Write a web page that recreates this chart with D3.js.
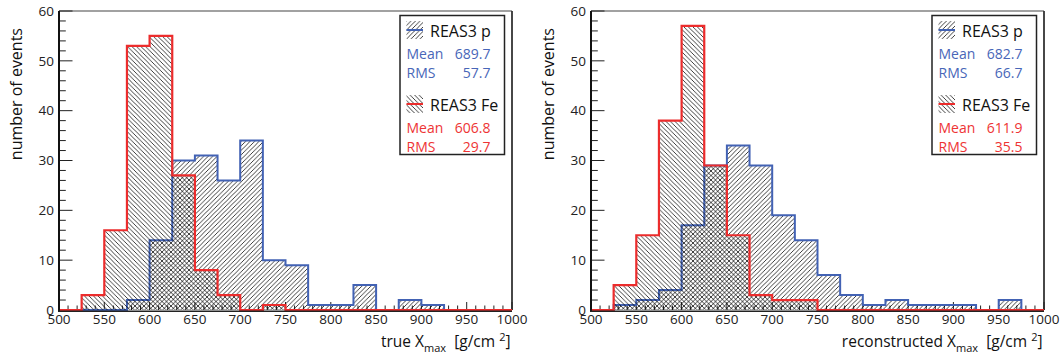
<!DOCTYPE html>
<html><head><meta charset="utf-8">
<script src="https://cdn.jsdelivr.net/npm/d3@7/dist/d3.min.js"></script>
<style>body{margin:0;background:#fff}svg{display:block}text{font-family:"Open Sans",sans-serif}</style>
</head><body>
<svg id="c" width="1063" height="359"></svg>
<script>
// ---- data ----
const binStart = 500, binWidth = 25, nBins = 20;
const trueP   = [0,0,0,2,14,30,31,26,34,10,9,1,1,5,0,2,1,0,0,0];
const trueFe  = [0,3,16,53,55,27,8,3,0,1,0,0,0,0,0,0,0,0,0,0];
const recoP   = [0,1,2,4,17,29,33,29,19,14,7,3,1,2,1,1,1,0,2,0];
const recoFe  = [0,5,15,38,57,29,15,3,2,2,0,0,0,0,0,0,0,0,0,0];
const xTicks = [500,550,600,650,700,750,800,850,900,950,1000];
const yTicks = [0,10,20,30,40,50,60];
const seriesNames = ["REAS3 p","REAS3 Fe"];
const statsTrue = {p:["689.7","57.7"], fe:["606.8","29.7"]};
const statsReco = {p:["682.7","66.7"], fe:["611.9","35.5"]};
const xTitles = ["true X","reconstructed X"];

const BLUE = "#4262b4", RED = "#ec2c2c", BTXT = "#4866b8", RTXT = "#ee3434";
const svg = d3.select("#c");
const defs = svg.append("defs");
function hatch(id, d){
  defs.append("pattern").attr("id",id).attr("patternUnits","userSpaceOnUse")
    .attr("width",4.5).attr("height",4.5)
    .append("path").attr("d",d).attr("stroke","#000").attr("stroke-width",0.75).attr("fill","none");
}
hatch("hp","M-1,1 L1,-1 M0,4.5 L4.5,0 M3.5,5.5 L5.5,3.5");
hatch("hf","M-1,3.5 L1,5.5 M0,0 L4.5,4.5 M3.5,-1 L5.5,1");

const panels = [
  {ox:59, p:trueP, fe:trueFe, st:statsTrue, title:xTitles[0]},
  {ox:591, p:recoP, fe:recoFe, st:statsReco, title:xTitles[1]}
];
const PW = 453, TOP = 11, BOT = 310;

panels.forEach(pn=>{
  const g = svg.append("g");
  const x = d3.scaleLinear().domain([500,1000]).range([pn.ox, pn.ox+PW]);
  const y = d3.scaleLinear().domain([0,60]).range([BOT, TOP]);

  // frame top/right
  g.append("line").attr("x1",x(500)).attr("x2",x(1000)).attr("y1",TOP).attr("y2",TOP).attr("stroke","#444").attr("stroke-width",1.2);
  g.append("line").attr("x1",x(1000)).attr("x2",x(1000)).attr("y1",TOP).attr("y2",BOT).attr("stroke","#333").attr("stroke-width",1.8);

  function histPath(vals){
    const pts = [[binStart,0]];
    vals.forEach((v,i)=>{ pts.push([binStart+i*binWidth,v]); pts.push([binStart+(i+1)*binWidth,v]); });
    pts.push([binStart+nBins*binWidth,0]);
    return d3.line().x(d=>x(d[0])).y(d=>y(d[1]))(pts);
  }
  // ticks
  const minorX = d3.range(500,1001,10), minorY = d3.range(0,61,2);
  g.append("g").selectAll("line").data(minorX).join("line")
    .attr("x1",d=>x(d)).attr("x2",d=>x(d)).attr("y1",BOT)
    .attr("y2",d=> xTicks.includes(d)? BOT-8 : BOT-4.5).attr("stroke","#222").attr("stroke-width",1);
  g.append("g").selectAll("line").data(minorY).join("line")
    .attr("y1",d=>y(d)).attr("y2",d=>y(d)).attr("x1",x(500))
    .attr("x2",d=> yTicks.includes(d)? x(500)+13.5 : x(500)+6.8).attr("stroke","#222").attr("stroke-width",1);

  // histograms
  g.append("path").attr("d",histPath(pn.p)).attr("fill","url(#hp)").attr("stroke",BLUE).attr("stroke-width",2).attr("stroke-linejoin","miter");
  g.append("path").attr("d",histPath(pn.fe)).attr("fill","url(#hf)").attr("stroke",RED).attr("stroke-width",2.2).attr("stroke-linejoin","miter");

  // axes lines
  g.append("line").attr("x1",x(500)).attr("x2",x(500)).attr("y1",TOP).attr("y2",BOT+1).attr("stroke","#111").attr("stroke-width",2);
  g.append("line").attr("x1",x(500)-1).attr("x2",x(1000)).attr("y1",BOT+1.2).attr("y2",BOT+1.2).attr("stroke","#222").attr("stroke-width",1.4);

  // tick labels
  g.append("g").selectAll("text").data(xTicks).join("text")
    .attr("x",d=>x(d)).attr("y",324).attr("text-anchor","middle")
    .attr("font-size",13.5).attr("fill","#222").text(d=>d);
  g.append("g").selectAll("text").data(yTicks).join("text")
    .attr("x",x(500)-5).attr("y",d=>y(d)+4.8).attr("text-anchor","end")
    .attr("font-size",13.5).attr("fill","#222").text(d=>d);

  // axis titles
  g.append("text").attr("transform",`translate(${pn.ox-37.5},28) rotate(-90)`)
    .attr("text-anchor","end").attr("font-size",16).attr("fill","#111").text("number of events");
  const t = g.append("text").attr("x",x(1000)-1.5).attr("y",346.5).attr("text-anchor","end")
    .attr("font-size",15.5).attr("fill","#111");
  t.append("tspan").text(pn.title);
  t.append("tspan").attr("font-size",11).attr("dy",5).text("max");
  t.append("tspan").attr("dy",-5).text("\u00a0 [g/cm\u00a0");
  t.append("tspan").attr("font-size",11).attr("dy",-6).text("2");
  t.append("tspan").attr("dy",6).text("]");

  // legend
  const L = g.append("g");
  const lx = pn.ox+341;
  L.append("rect").attr("x",lx).attr("y",15.5).attr("width",104.5).attr("height",139)
    .attr("fill","#fff").attr("stroke","#222").attr("stroke-width",1.5);
  const ents = [
    {name:seriesNames[0], pat:"hp", col:BLUE, tc:BTXT, vals:pn.st.p, y0:21},
    {name:seriesNames[1], pat:"hf", col:RED, tc:RTXT, vals:pn.st.fe, y0:95}
  ];
  ents.forEach(e=>{
    L.append("rect").attr("x",lx+6.5).attr("y",e.y0).attr("width",16.5).attr("height",18).attr("fill",`url(#${e.pat})`);
    L.append("line").attr("x1",lx+6.5).attr("x2",lx+23).attr("y1",e.y0+9).attr("y2",e.y0+9).attr("stroke",e.col).attr("stroke-width",2);
    L.append("text").attr("x",lx+30).attr("y",e.y0+16.3).attr("font-size",16).attr("fill","#111").text(e.name);
    ["Mean","RMS"].forEach((lab,k)=>{
      const yy = e.y0+38.3+k*19;
      L.append("text").attr("x",lx+6.5).attr("y",yy).attr("font-size",14).attr("fill",e.tc).text(lab);
      L.append("text").attr("x",lx+90.5).attr("y",yy).attr("font-size",14).attr("text-anchor","end").attr("fill",e.tc).text(e.vals[k]);
    });
  });
});
</script>
</body></html>
